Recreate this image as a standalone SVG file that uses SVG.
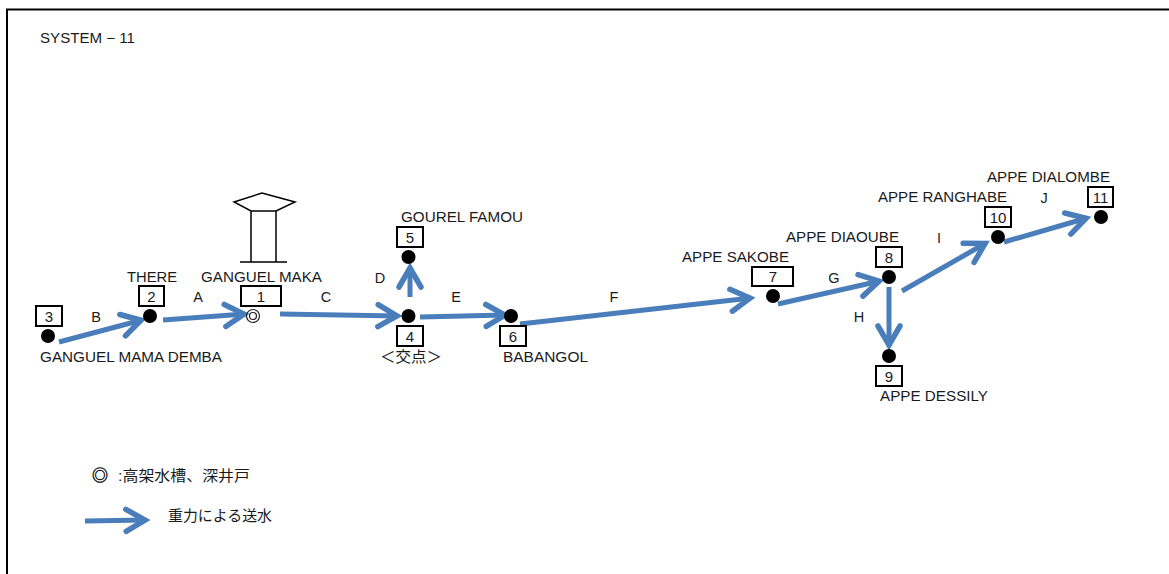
<svg xmlns="http://www.w3.org/2000/svg" width="1169" height="574" viewBox="0 0 1169 574">
<style>
text{font-family:"Liberation Sans","Noto Sans CJK JP",sans-serif;font-size:15px;fill:#1a1a1a}
.n{text-anchor:middle}
.e{text-anchor:middle;font-size:14.5px}
.box{fill:#fff;stroke:#000;stroke-width:2}
.dot{fill:#000}
.ln{fill:none;stroke:#000;stroke-width:1.5}
.c{fill:none;stroke:#4a7ebb;stroke-width:5;marker-end:url(#a)}
</style>
<defs>
<marker id="a" markerUnits="userSpaceOnUse" markerWidth="30" markerHeight="30" viewBox="-24 -15 30 30" refX="0" refY="0" orient="auto" overflow="visible">
<path d="M-20,-11L-1,0L-20,11" fill="none" stroke="#4a7ebb" stroke-width="5.5" stroke-linecap="round" stroke-linejoin="miter"/>
</marker>
</defs>
<rect width="1169" height="574" fill="#fff"/>
<path d="M7,574V9.5H1169" fill="none" stroke="#000" stroke-width="2"/>
<text id="title" x="40" y="43" textLength="95" lengthAdjust="spacingAndGlyphs" style="font-size:14px">SYSTEM − 11</text>
<g id="tower"><path class="ln" d="M234,202L262,193L295,202L276,211H251ZM251,211V262M276,211V262M240,262H287"/></g>
<g id="connectors">
<line class="c" x1="59" y1="342" x2="142" y2="320"/>
<line class="c" x1="163" y1="320" x2="245" y2="314"/>
<line class="c" x1="280" y1="314" x2="398" y2="316"/>
<line class="c" x1="410" y1="297" x2="410" y2="267"/>
<line class="c" x1="420" y1="317" x2="506" y2="315"/>
<line class="c" x1="520" y1="324" x2="751" y2="298"/>
<line class="c" x1="778" y1="304" x2="880" y2="281"/>
<line class="c" x1="889" y1="287" x2="889" y2="346"/>
<line class="c" x1="902" y1="291" x2="986" y2="243"/>
<line class="c" x1="1004" y1="242" x2="1087" y2="218"/>
<line class="c" x1="85" y1="521" x2="146" y2="520"/>
</g>
<g id="edge-labels">
<text class="e" x="198" y="302">A</text><text class="e" x="96" y="322">B</text><text class="e" x="326" y="302">C</text><text class="e" x="380" y="283">D</text><text class="e" x="456" y="302">E</text><text class="e" x="614" y="302">F</text><text class="e" x="834" y="283">G</text><text class="e" x="859" y="322">H</text><text class="e" x="939" y="243">I</text><text class="e" x="1044" y="203">J</text>
</g>
<g id="n1"><circle cx="253" cy="316" r="6.5" fill="none" stroke="#222" stroke-width="1.2"/><circle cx="253" cy="316" r="3.5" fill="none" stroke="#222" stroke-width="1.2"/><rect class="box" x="241" y="286" width="40" height="20"/><text class="n" x="261" y="302">1</text><text x="201" y="282" textLength="121" lengthAdjust="spacingAndGlyphs">GANGUEL MAKA</text></g>
<g id="n2"><circle class="dot" cx="150" cy="316" r="7"/><rect class="box" x="139" y="286" width="25" height="20"/><text class="n" x="151.500" y="302">2</text><text x="127" y="282" textLength="50" lengthAdjust="spacingAndGlyphs">THERE</text></g>
<g id="n3"><circle class="dot" cx="48" cy="336" r="7"/><rect class="box" x="36" y="306" width="26" height="20"/><text class="n" x="49" y="322">3</text><text x="40" y="362" textLength="182" lengthAdjust="spacingAndGlyphs">GANGUEL MAMA DEMBA</text></g>
<g id="n4"><circle class="dot" cx="408.500" cy="316" r="7"/><rect class="box" x="397" y="326" width="26" height="20"/><text class="n" x="410" y="342">4</text><text x="380" y="362" textLength="62" lengthAdjust="spacingAndGlyphs">＜交点＞</text></g>
<g id="n5"><circle class="dot" cx="408.500" cy="257" r="7"/><rect class="box" x="397" y="227" width="26" height="20"/><text class="n" x="410" y="243">5</text><text x="401" y="222" textLength="122" lengthAdjust="spacingAndGlyphs">GOUREL FAMOU</text></g>
<g id="n6"><circle class="dot" cx="511" cy="316" r="7"/><rect class="box" x="500" y="326" width="26" height="20"/><text class="n" x="513" y="342">6</text><text x="503" y="362" textLength="85" lengthAdjust="spacingAndGlyphs">BABANGOL</text></g>
<g id="n7"><circle class="dot" cx="773" cy="296" r="7"/><rect class="box" x="752" y="267" width="41" height="19"/><text class="n" x="773" y="282">7</text><text x="682" y="262" textLength="107" lengthAdjust="spacingAndGlyphs">APPE SAKOBE</text></g>
<g id="n8"><circle class="dot" cx="889" cy="277" r="7"/><rect class="box" x="876" y="247" width="26" height="20"/><text class="n" x="889" y="263">8</text><text x="786" y="242" textLength="113" lengthAdjust="spacingAndGlyphs">APPE DIAOUBE</text></g>
<g id="n9"><circle class="dot" cx="889" cy="356" r="7"/><rect class="box" x="876" y="366" width="26" height="20"/><text class="n" x="889" y="382">9</text><text x="880" y="401" textLength="108" lengthAdjust="spacingAndGlyphs">APPE DESSILY</text></g>
<g id="n10"><circle class="dot" cx="998" cy="237" r="7"/><rect class="box" x="985" y="207" width="26" height="20"/><text class="n" x="998" y="223">10</text><text x="878" y="202" textLength="129" lengthAdjust="spacingAndGlyphs">APPE RANGHABE</text></g>
<g id="n11"><circle class="dot" cx="1101" cy="217" r="7"/><rect class="box" x="1088" y="187" width="25" height="20"/><text class="n" x="1100.500" y="203">11</text><text x="987" y="182" textLength="123" lengthAdjust="spacingAndGlyphs">APPE DIALOMBE</text></g>
<g id="legend">
<text x="92" y="481" style="font-size:16px;fill:#000;stroke:#000;stroke-width:.4">◎</text><text x="118" y="481" textLength="132" lengthAdjust="spacingAndGlyphs">:高架水槽、深井戸</text>
<text x="168" y="521" textLength="104" lengthAdjust="spacingAndGlyphs">重力による送水</text>
</g>
</svg>
